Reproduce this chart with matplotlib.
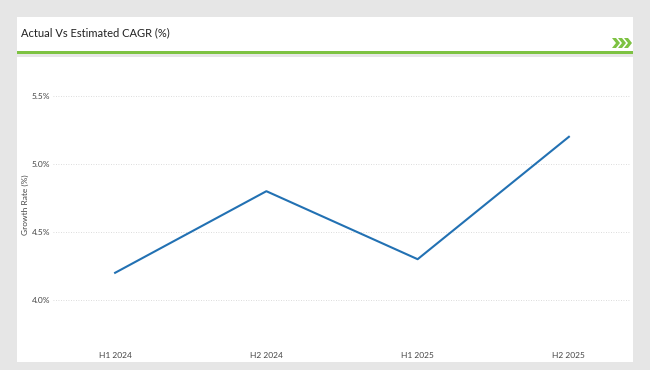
import matplotlib
matplotlib.use("Agg")
import matplotlib.pyplot as plt
from matplotlib.patches import Rectangle, Polygon

categories = ["H1 2024", "H2 2024", "H1 2025", "H2 2025"]
growth = [4.2, 4.8, 4.3, 5.2]
yticks = [4.0, 4.5, 5.0, 5.5]
ytick_labels = ["4.0%", "4.5%", "5.0%", "5.5%"]

plt.rcParams['font.family'] = ['Lato', 'DejaVu Sans']

W, H = 650, 370
fig = plt.figure(figsize=(6.5, 3.7), dpi=100)
fig.patch.set_facecolor("#e6e6e6")

def fx(x): return x / W
def fy(y): return 1 - y / H

# header panel
fig.patches.append(Rectangle((fx(17), fy(51)), fx(633) - fx(17), fy(17) - fy(51),
                             transform=fig.transFigure, facecolor="white", edgecolor="none", zorder=0))
# green line
fig.patches.append(Rectangle((fx(17), fy(53.5)), fx(633) - fx(17), fy(51) - fy(53.5),
                             transform=fig.transFigure, facecolor="#7dc242", edgecolor="none", zorder=1))
# chart panel
fig.patches.append(Rectangle((fx(17), fy(362)), fx(633) - fx(17), fy(57) - fy(362),
                             transform=fig.transFigure, facecolor="white", edgecolor="none", zorder=0))
# chevrons
for i in range(3):
    x0 = 612 + i * 6
    pts = [(x0, 38), (x0 + 4, 38), (x0 + 8, 43), (x0 + 4, 48), (x0, 48), (x0 + 4, 43)]
    fig.patches.append(Polygon([(fx(a), fy(b)) for a, b in pts], closed=True,
                               transform=fig.transFigure, facecolor="#7dc242", edgecolor="none", zorder=2))

fig.text(fx(21), fy(33), "Actual Vs Estimated CAGR (%)", fontsize=8, color="#222222",
         va="center", ha="left")

ax = fig.add_axes([fx(53), fy(340.8), fx(630) - fx(53), fy(68.8) - fy(340.8)])
ax.set_zorder(5)
ax.set_facecolor("none")
ax.plot(range(len(categories)), growth, color="#2271b3", linewidth=1.5)
ax.set_xlim(-62 / 151, 3 + 61 / 151)
ax.set_ylim(3.7, 5.7)
ax.set_yticks(yticks)
ax.set_yticklabels(ytick_labels)
ax.set_xticks(range(len(categories)))
ax.set_xticklabels(categories)
ax.tick_params(axis="both", length=0, labelsize=6, colors="#444444")
ax.tick_params(axis="x", pad=8)
ax.tick_params(axis="y", pad=2)
ax.grid(axis="y", linestyle=(0, (1, 2)), color="#d0d0d0", linewidth=0.6)
ax.set_axisbelow(True)
for s in ax.spines.values():
    s.set_visible(False)
ax.set_ylabel("Growth Rate (%)", fontsize=6, color="#444444", labelpad=2)

fig.savefig("out.png", dpi=100, facecolor=fig.get_facecolor())
